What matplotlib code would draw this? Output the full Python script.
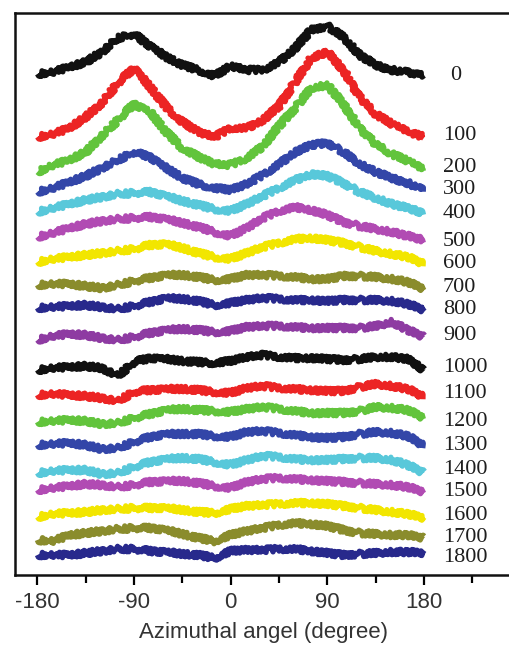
import numpy as np
import matplotlib.pyplot as plt

plt.rcParams['axes.unicode_minus'] = False

# azimuthal angle grid of the traces (degree)
angles = np.arange(-180, 181, 15)

# traces (stacked, arbitrary units, larger = lower on the plot)
t0 = [74, 72, 67, 62, 52, 38, 34, 46, 57, 65, 70, 76, 66, 70, 70, 62, 48, 30, 26, 37, 55, 65, 70, 72, 76]
t100 = [137, 134, 128, 117, 103, 83, 68, 87, 107, 122, 132, 137, 128, 128, 120, 106, 82, 58, 52, 70, 97, 114, 124, 132, 137]
t200 = [172, 165, 160, 152, 136, 120, 104, 112, 132, 148, 157, 164, 165, 158, 146, 126, 108, 88, 85, 104, 128, 144, 154, 161, 170]
t300 = [192, 188, 182, 176, 168, 160, 152, 157, 168, 178, 184, 188, 190, 184, 175, 164, 152, 145, 143, 152, 164, 172, 178, 183, 190]
t400 = [212, 208, 204, 200, 197, 194, 193, 192, 196, 201, 205, 209, 211, 204, 196, 188, 180, 174, 176, 183, 192, 198, 204, 208, 213]
t500 = [237, 233, 228, 224, 221, 219, 218, 217, 219, 223, 227, 232, 236, 228, 218, 211, 207, 210, 215, 222, 226, 229, 232, 236, 240]
t600 = [262, 259, 257, 255, 253, 251, 249, 245, 244, 248, 253, 257, 259, 253, 247, 243, 239, 238, 240, 243, 247, 251, 254, 257, 264]
t700 = [285, 284, 284, 286, 288, 285, 281, 278, 275, 275, 277, 280, 279, 275, 275, 276, 277, 279, 279, 276, 276, 277, 279, 282, 289]
t800 = [308, 307, 306, 305, 307, 309, 306, 302, 298, 299, 301, 305, 303, 300, 298, 299, 300, 300, 301, 300, 300, 300, 301, 304, 310]
t900 = [340, 336, 334, 335, 338, 340, 337, 333, 330, 329, 330, 332, 331, 327, 326, 326, 327, 328, 328, 328, 328, 326, 322, 330, 337]
t1000 = [370, 368, 367, 366, 368, 376, 362, 358, 359, 361, 362, 363, 361, 357, 355, 357, 358, 358, 359, 360, 359, 357, 357, 359, 370]
t1100 = [395, 394, 395, 396, 398, 401, 392, 390, 389, 389, 390, 392, 393, 388, 386, 388, 389, 390, 391, 391, 387, 384, 386, 389, 397]
t1200 = [422, 421, 420, 421, 424, 423, 418, 414, 410, 409, 410, 411, 412, 409, 407, 409, 411, 413, 413, 413, 411, 407, 408, 410, 418]
t1300 = [445, 444, 443, 445, 449, 448, 442, 437, 434, 434, 434, 436, 437, 432, 431, 433, 435, 437, 438, 437, 434, 432, 433, 436, 446]
t1400 = [473, 471, 470, 470, 474, 473, 467, 462, 459, 458, 459, 462, 465, 460, 456, 457, 459, 460, 460, 459, 458, 458, 460, 465, 473]
t1500 = [490, 488, 486, 484, 485, 487, 485, 482, 481, 481, 483, 486, 488, 482, 479, 478, 479, 480, 481, 482, 483, 484, 485, 487, 492]
t1600 = [517, 514, 513, 512, 510, 509, 508, 508, 508, 510, 512, 513, 509, 506, 505, 504, 503, 503, 504, 506, 508, 510, 512, 514, 518]
t1700 = [540, 541, 535, 533, 531, 529, 528, 528, 530, 534, 538, 541, 535, 531, 528, 525, 523, 524, 526, 530, 533, 534, 535, 535, 538]
t1800 = [555, 555, 555, 553, 551, 549, 549, 551, 552, 554, 555, 558, 551, 550, 550, 549, 549, 551, 553, 555, 554, 553, 552, 552, 553]

traces = [t0, t100, t200, t300, t400, t500, t600, t700, t800, t900,
          t1000, t1100, t1200, t1300, t1400, t1500, t1600, t1700, t1800]

labels = ['0', '100', '200', '300', '400', '500', '600', '700', '800', '900',
          '1000', '1100', '1200', '1300', '1400', '1500', '1600', '1700', '1800']
label_y = [75, 135, 168, 190, 213, 241, 264, 288, 310, 335,
           368, 393, 421, 446, 470, 492, 515, 537, 557]

colors = ['#111111', '#ec2424', '#62c43c', '#3346a8', '#58c8da', '#b14bb3',
          '#f2e600', '#8a8c2c', '#28298c', '#8e3ba2',
          '#111111', '#ec2424', '#62c43c', '#3346a8', '#58c8da', '#b14bb3',
          '#f2e600', '#8a8c2c', '#28298c']

fig = plt.figure(figsize=(5.09, 6.45), dpi=100)
ax = fig.add_axes([15 / 509, 70 / 645, 497 / 509, 562 / 645])

for tr, c in zip(traces, colors):
    ln, = ax.plot(angles, tr, color=c, lw=3.8, solid_joinstyle='round',
                  solid_capstyle='butt')
    # rough "noisy band" look of the measured traces
    ln.set_sketch_params(scale=2.8, length=2.5, randomness=3)

for lab, ly in zip(labels, label_y):
    lx = 204 if lab == '0' else 197.5
    ax.text(lx, ly, lab, fontsize=16, family='Liberation Serif',
            color='#1e1e1e', va='center', ha='left')

ax.set_xlim(-200.8, 261.9)
ax.set_ylim(575, 13)   # stacked traces, top trace first
ax.set_xticks([-180, -90, 0, 90, 180])
ax.set_xticks([-135, -45, 45, 135, 225], minor=True)
ax.set_yticks([])
ax.tick_params(axis='x', which='major', direction='out', length=7, width=1.6,
               pad=5, labelsize=16, labelcolor='#333333')
ax.tick_params(axis='x', which='minor', direction='out', length=6, width=1.6)
for lbl in ax.get_xticklabels():
    lbl.set_family('Liberation Sans')
for s in ax.spines.values():
    s.set_linewidth(1.8)
    s.set_color('#111111')

ax.set_xlabel('Azimuthal angel (degree)', fontsize=16, family='Liberation Sans',
              color='#333333', labelpad=7)

plt.savefig('out.png', dpi=100)
